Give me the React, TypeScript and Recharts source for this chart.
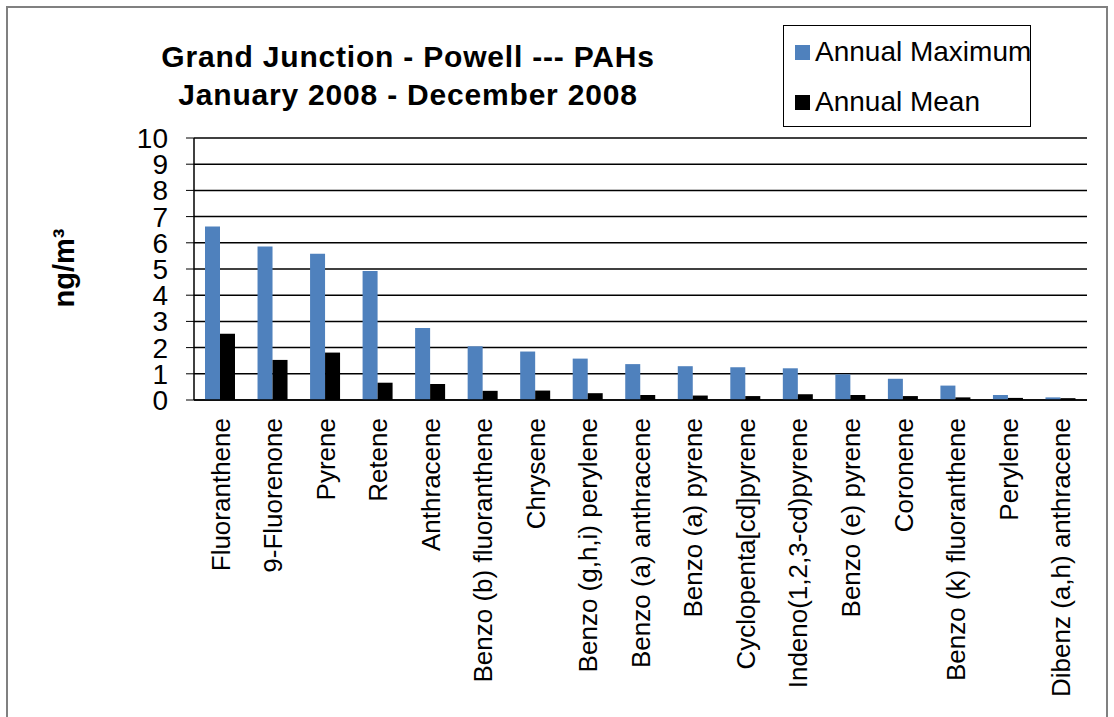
import { Bar, BarChart, CartesianGrid, XAxis, YAxis } from "recharts";

const compounds = [
  "Fluoranthene",
  "9-Fluorenone",
  "Pyrene",
  "Retene",
  "Anthracene",
  "Benzo (b) fluoranthene",
  "Chrysene",
  "Benzo (g,h,i) perylene",
  "Benzo (a) anthracene",
  "Benzo (a) pyrene",
  "Cyclopenta[cd]pyrene",
  "Indeno(1,2,3-cd)pyrene",
  "Benzo (e) pyrene",
  "Coronene",
  "Benzo (k) fluoranthene",
  "Perylene",
  "Dibenz (a,h) anthracene",
];

const annualMax = [
  6.62, 5.86, 5.58, 4.92, 2.75, 2.05, 1.85, 1.58, 1.37, 1.29, 1.25, 1.21,
  0.98, 0.81, 0.55, 0.19, 0.1,
];

const annualMean = [
  2.53, 1.53, 1.81, 0.66, 0.61, 0.35, 0.36, 0.26, 0.19, 0.17, 0.15, 0.22,
  0.19, 0.15, 0.1, 0.08, 0.07,
];

const series = [
  { key: "Annual Maximum", color: "#4F81BD" },
  { key: "Annual Mean", color: "#000000" },
];

const yTicks = [0, 1, 2, 3, 4, 5, 6, 7, 8, 9, 10];
const edgeTicks = compounds.map((_, i) => i).concat(compounds.length);

const data = compounds.map((name, i) => ({
  name,
  "Annual Maximum": annualMax[i],
  "Annual Mean": annualMean[i],
}));

const FONT = "'Liberation Sans', Arial, sans-serif";

const CompoundTick = (props: any) => {
  const { x, y, payload } = props;
  const top = y + 10;
  return (
    <text
      x={x}
      y={top}
      dy="0.36em"
      textAnchor="end"
      fontSize={26}
      fontFamily={FONT}
      fill="#000"
      transform={`rotate(-90, ${x}, ${top})`}
    >
      {payload.value}
    </text>
  );
};

const LegendBox = () => (
  <div
    style={{
      position: "absolute",
      left: 783,
      top: 25,
      width: 246,
      height: 100,
      border: "1px solid #000",
      fontFamily: FONT,
      fontSize: 28,
      background: "#fff",
    }}
  >
    {series.map((s, i) => (
      <div
        key={s.key}
        style={{
          position: "absolute",
          left: 11,
          top: 11 + i * 50,
          display: "flex",
          alignItems: "center",
          whiteSpace: "nowrap",
        }}
      >
        <span style={{ width: 15, height: 15, background: s.color, display: "inline-block", marginRight: 5 }} />
        <span style={{ lineHeight: "30px" }}>{s.key}</span>
      </div>
    ))}
  </div>
);

export default function App() {
  return (
    <div
      style={{
        position: "fixed",
        left: 0,
        top: 0,
        width: 1114,
        height: 717,
        overflow: "hidden",
        background: "#fff",
      }}
    >
      <div style={{ position: "absolute", left: 0, top: 0, width: 1114, height: 717 }}>
        <BarChart
          width={1114}
          height={717}
          data={data}
          margin={{ top: 138, right: 27, left: 0, bottom: 7 }}
          barGap={0}
          barSize={15}
        >
          <CartesianGrid vertical={false} stroke="#000" strokeWidth={1.5} />
          <XAxis
            xAxisId="edges"
            type="number"
            domain={[0, compounds.length]}
            ticks={edgeTicks}
            tick={false}
            tickSize={7}
            tickLine={{ stroke: "#000" }}
            axisLine={false}
            height={0}
          />
          <XAxis
            dataKey="name"
            interval={0}
            tickLine={false}
            axisLine={{ stroke: "#000", strokeWidth: 1.5 }}
            tick={<CompoundTick />}
            height={310}
          />
          <YAxis
            domain={[0, 10]}
            ticks={yTicks}
            interval={0}
            width={194}
            tickSize={8}
            tickMargin={18}
            axisLine={{ stroke: "#000", strokeWidth: 1.5 }}
            tickLine={{ stroke: "#000" }}
            tick={{ fill: "#000", fontSize: 28, fontFamily: FONT }}
          />
          <YAxis
            yAxisId="right"
            orientation="right"
            domain={[0, 10]}
            ticks={yTicks}
            width={0}
            tick={false}
            tickLine={false}
            axisLine={{ stroke: "#000", strokeWidth: 1.5 }}
          />
          {series.map((s) => (
            <Bar key={s.key} dataKey={s.key} fill={s.color} isAnimationActive={false} />
          ))}
        </BarChart>
      </div>
      <div
        style={{
          position: "absolute",
          left: 108,
          top: 38,
          width: 600,
          textAlign: "center",
          fontFamily: FONT,
          fontWeight: "bold",
          fontSize: 30,
          lineHeight: "38px",
          letterSpacing: 0.8,
          whiteSpace: "nowrap",
        }}
      >
        Grand Junction - Powell --- PAHs
        <br />
        January 2008 - December 2008
      </div>
      <div
        style={{
          position: "absolute",
          left: 64,
          top: 268,
          transform: "translate(-50%, -50%) rotate(-90deg)",
          fontFamily: FONT,
          fontWeight: "bold",
          fontSize: 29,
          whiteSpace: "nowrap",
        }}
      >
        ng/m³
      </div>
      <LegendBox />
      <div
        style={{
          position: "absolute",
          left: 6,
          top: 6,
          width: 1102,
          height: 740,
          boxSizing: "border-box",
          borderLeft: "2px solid #808080",
          borderTop: "2px solid #808080",
          borderRight: "2px solid #808080",
          pointerEvents: "none",
        }}
      />
    </div>
  );
}
